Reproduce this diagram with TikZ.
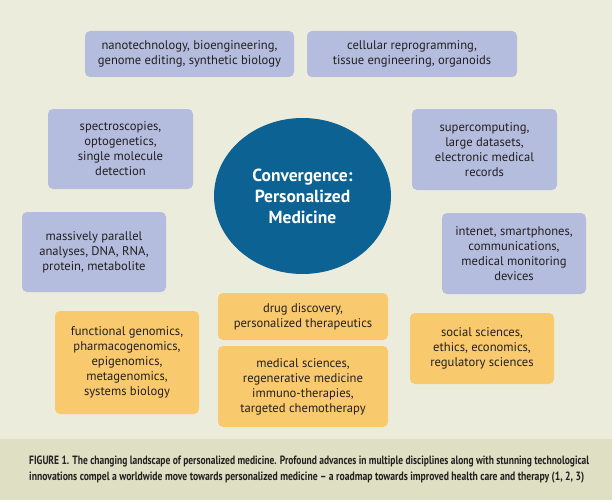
\documentclass[tikz,border=0pt]{standalone}
\usepackage{fontspec}
\usepackage{graphicx}
\setmainfont{PT Sans}
\newfontfamily\capfont{PT Sans}
\usetikzlibrary{shapes.geometric}
\definecolor{bgmain}{HTML}{ECECDC}
\definecolor{bgcap}{HTML}{DEDFC3}
\definecolor{boxblue}{HTML}{B4BDDE}
\definecolor{boxorange}{HTML}{F9C96E}
\definecolor{ellblue}{HTML}{0C6293}
\definecolor{txt}{HTML}{231F20}
\tikzset{
  card/.style={draw=none, rounded corners=5pt, inner sep=0pt, align=center,
    text=txt, font=\fontsize{12.6}{15}\selectfont},
  bluecard/.style={card, fill=boxblue},
  orangecard/.style={card, fill=boxorange},
  captext/.style={anchor=base west, inner sep=0pt, text=txt,
    font=\capfont\bfseries\fontsize{12}{16}\selectfont}
}
\begin{document}
\begin{tikzpicture}[x=1pt,y=-1pt]
\useasboundingbox (0,0) rectangle (612,500);
\fill[bgmain] (0,0) rectangle (612,439);
\fill[bgcap] (0,439) rectangle (612,500);

\node[bluecard, minimum width=209pt, minimum height=46pt] (nano) at (189.5,54)
  {nanotechnology, bioengineering,\\genome editing, synthetic biology};
\node[bluecard, minimum width=210pt, minimum height=46pt] (cell) at (412,54)
  {cellular reprogramming,\\tissue engineering, organoids};
\node[bluecard, minimum width=145pt, minimum height=80pt] (spec) at (120.5,149)
  {spectroscopies,\\optogenetics,\\single molecule\\detection};
\node[bluecard, minimum width=145pt, minimum height=81pt] (super) at (484.5,149.5)
  {supercomputing,\\large datasets,\\electronic medical\\records};
\node[bluecard, minimum width=144pt, minimum height=80pt] (mass) at (94,252)
  {massively parallel\\analyses, DNA, RNA,\\protein, metabolite};
\node[bluecard, minimum width=144pt, minimum height=81pt] (inte) at (514,253.5)
  {intenet, smartphones,\\communications,\\medical monitoring\\devices};
\node[orangecard, minimum width=144pt, minimum height=103pt] (func) at (127,362.5)
  {functional genomics,\\pharmacogenomics,\\epigenomics,\\metagenomics,\\systems biology};
\node[orangecard, minimum width=170pt, minimum height=47pt] (drug) at (303,316.5)
  {drug discovery,\\personalized therapeutics};
\node[orangecard, minimum width=170pt, minimum height=81pt] (med) at (303,386.5)
  {medical sciences,\\regenerative medicine\\immuno-therapies,\\targeted chemotherapy};
\node[orangecard, minimum width=144pt, minimum height=71pt] (soc) at (482,348.5)
  {social sciences,\\ethics, economics,\\regulatory sciences};

\node[ellipse, fill=ellblue, draw=none, minimum width=177pt, minimum height=156pt,
  inner sep=0pt, text=white, align=center,
  font=\bfseries\fontsize{17.5}{21}\selectfont] (conv) at (302.5,196)
  {Convergence:\\Personalized\\Medicine};

\node[captext] (cap1) at (29,464) {\resizebox{560pt}{\height}{FIGURE 1. The changing landscape of personalized medicine. Profound advances in multiple disciplines along with stunning technological}};
\node[captext] (cap2) at (29,480) {\resizebox{555pt}{\height}{innovations compel a worldwide move towards personalized medicine – a roadmap towards improved health care and therapy (1, 2, 3)}};
\end{tikzpicture}
\end{document}
